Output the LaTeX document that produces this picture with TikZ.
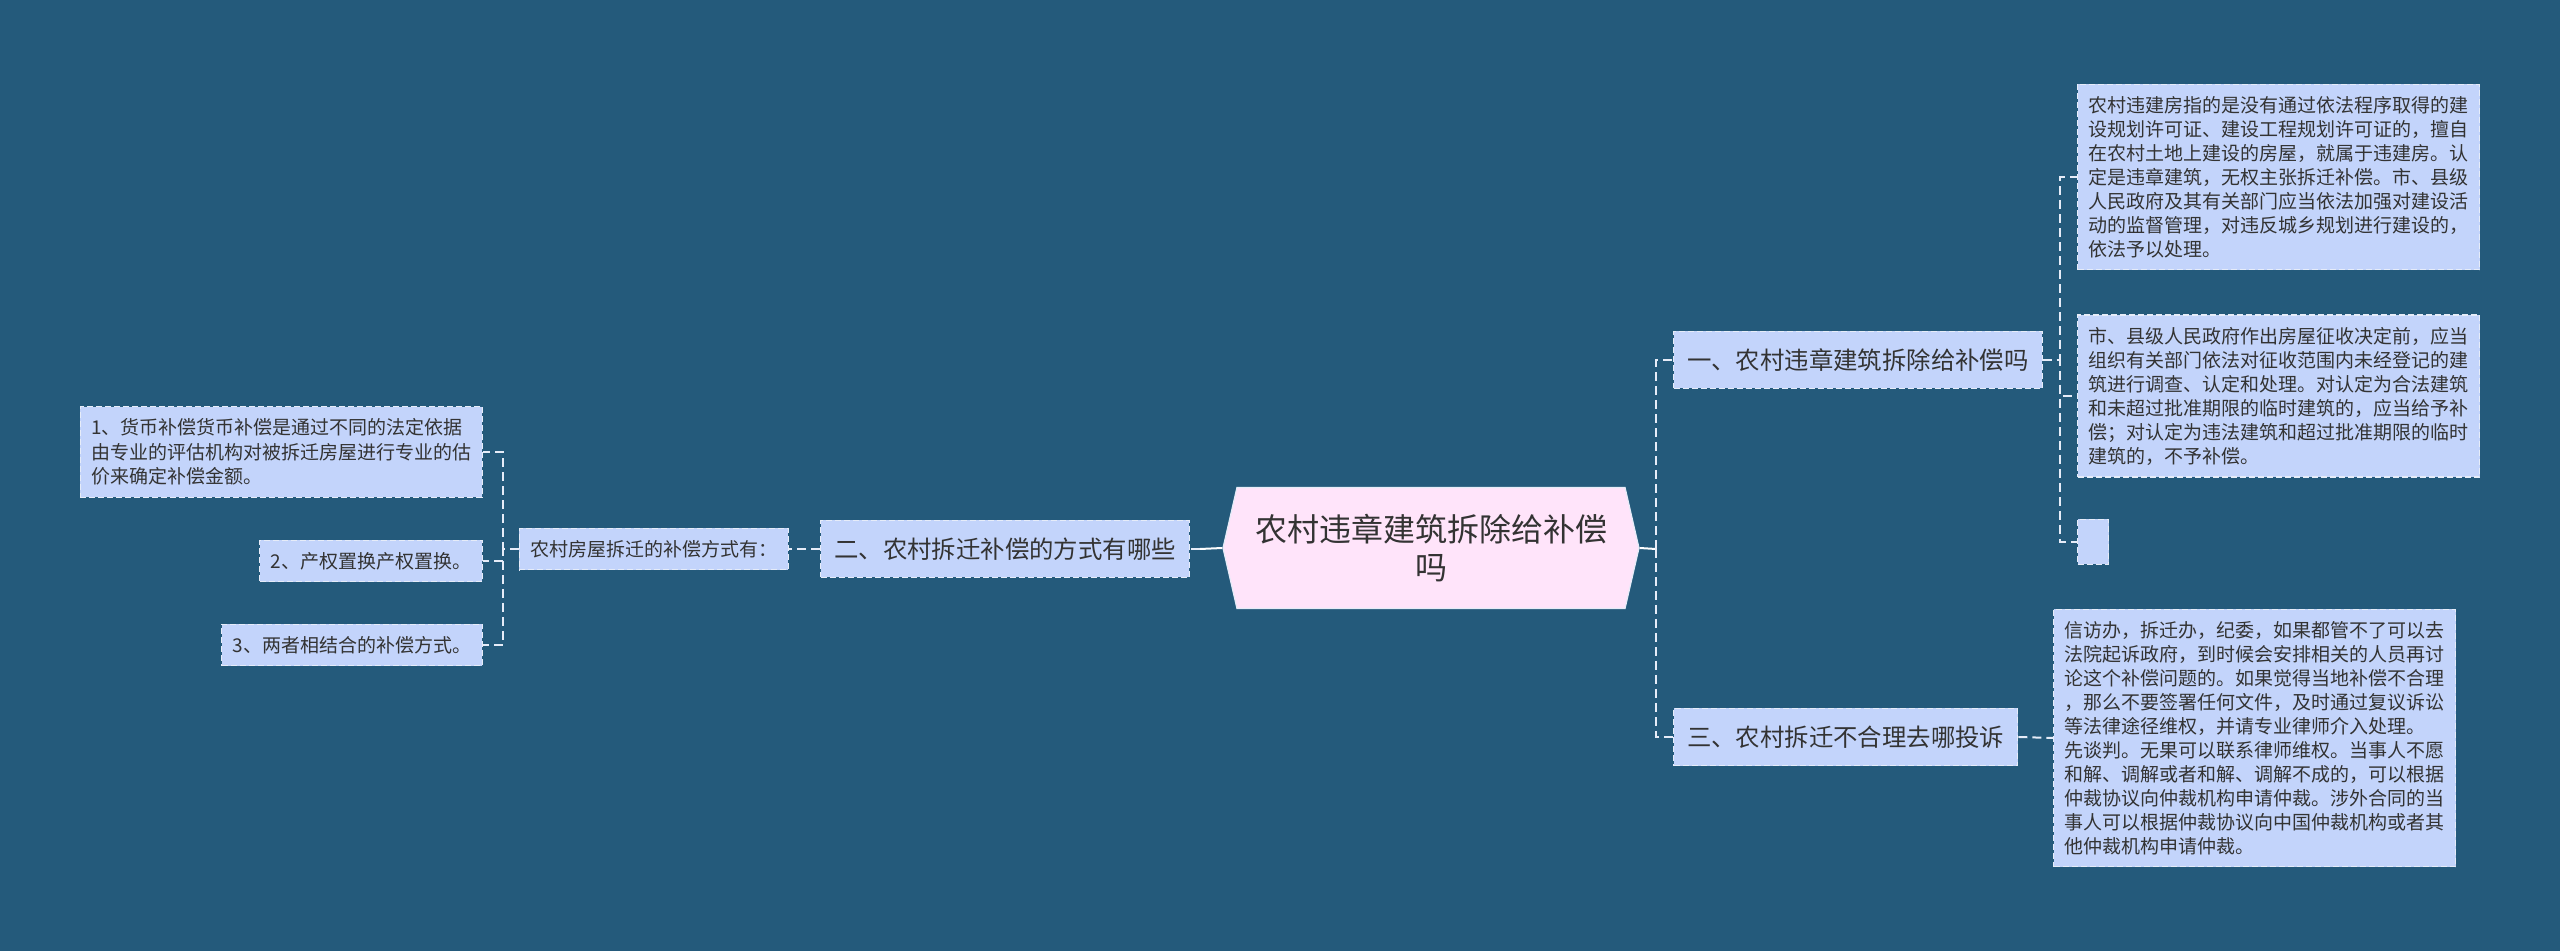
\documentclass[tikz,border=0pt]{standalone}
\usepackage{fontspec}
\setmainfont{Noto Sans CJK SC}
\usepackage{tikz}
\usetikzlibrary{shapes.symbols}
\definecolor{bg}{HTML}{245A7B}
\definecolor{cardc}{HTML}{C3D4FB}
\definecolor{pinkc}{HTML}{FFE4FA}
\definecolor{ink}{HTML}{333333}
\definecolor{rim}{HTML}{E6ECF8}

\begin{document}
\begin{tikzpicture}[x=0.5pt,y=-0.5pt, every node/.style={text=ink,align=left}, card/.style={draw=rim,fill=cardc,line width=0.6pt,dash pattern=on 3pt off 1.5pt,inner xsep=5.5pt,inner ysep=6pt}, leaf/.style={card,font=\fontsize{9.5}{12}\selectfont}, lleaf/.style={card,font=\fontsize{9.5}{12.3}\selectfont}, topic/.style={card,font=\fontsize{12.2}{14}\selectfont,inner xsep=6.75pt,minimum height=28.5pt}, hub/.style={signal,signal to=east and west,signal pointer angle=154,draw=rim,fill=pinkc,line width=0.6pt,font=\fontsize{16}{19}\selectfont,align=center,minimum width=208pt,minimum height=60.5pt}, ln/.style={draw=rim,line width=1pt,dash pattern=on 4.5pt off 2.5pt}, rl/.style={draw=white,line width=1pt}]
\fill[bg] (0,0) rectangle (2560,951);
\useasboundingbox (0,0) rectangle (2560,951);
\node[hub] (hub) at (1431,548) {农村违章建筑拆除给补偿\\吗};
\node[topic,anchor=west] (one) at (1673,360) {一、农村违章建筑拆除给补偿吗};
\node[topic,anchor=west] (three) at (1673,737) {三、农村拆迁不合理去哪投诉};
\node[topic,anchor=east] (two) at (1190,549) {二、农村拆迁补偿的方式有哪些};
\node[card,anchor=east,font=\fontsize{9.5}{11}\selectfont] (way) at (789,549) {农村房屋拆迁的补偿方式有：};
\node[leaf,anchor=west] (r1) at (2077,177) {农村违建房指的是没有通过依法程序取得的建\\设规划许可证、建设工程规划许可证的，擅自\\在农村土地上建设的房屋，就属于违建房。认\\定是违章建筑，无权主张拆迁补偿。市、县级\\人民政府及其有关部门应当依法加强对建设活\\动的监督管理，对违反城乡规划进行建设的，\\依法予以处理。};
\node[leaf,anchor=west] (r2) at (2077,396) {市、县级人民政府作出房屋征收决定前，应当\\组织有关部门依法对征收范围内未经登记的建\\筑进行调查、认定和处理。对认定为合法建筑\\和未超过批准期限的临时建筑的，应当给予补\\偿；对认定为违法建筑和超过批准期限的临时\\建筑的，不予补偿。};
\node[leaf,anchor=west,minimum width=15.5pt,minimum height=22.5pt] (r3) at (2077,542) {};
\node[leaf,anchor=west] (r4) at (2053,738) {信访办，拆迁办，纪委，如果都管不了可以去\\法院起诉政府，到时候会安排相关的人员再讨\\论这个补偿问题的。如果觉得当地补偿不合理\\，那么不要签署任何文件，及时通过复议诉讼\\等法律途径维权，并请专业律师介入处理。\\先谈判。无果可以联系律师维权。当事人不愿\\和解、调解或者和解、调解不成的，可以根据\\仲裁协议向仲裁机构申请仲裁。涉外合同的当\\事人可以根据仲裁协议向中国仲裁机构或者其\\他仲裁机构申请仲裁。};
\node[lleaf,anchor=east] (l1) at (483,452) {1、货币补偿货币补偿是通过不同的法定依据\\由专业的评估机构对被拆迁房屋进行专业的估\\价来确定补偿金额。};
\node[lleaf,anchor=east] (l2) at (483,561) {2、产权置换产权置换。};
\node[lleaf,anchor=east] (l3) at (483,645) {3、两者相结合的补偿方式。};
\coordinate (rj) at (1656,549);
\coordinate (lj) at (1200,549);
\draw[rl] (hub.east) -- (rj);\draw[ln] (rj) |- (one.west);\draw[ln] (rj) |- (three.west);
\draw[rl] (hub.west) -- (lj);\draw[ln] (lj) -- (two.east);\draw[ln] (two.west) -- (way.east);
\draw[ln] (way.west) -- ++(-16,0) |- (l1.east);\draw[ln] (way.west) -- ++(-16,0) |- (l2.east);\draw[ln] (way.west) -- ++(-16,0) |- (l3.east);
\draw[ln] (one.east) -- ++(17,0) |- (r1.west);\draw[ln] (one.east) -- ++(17,0) |- (r2.west);\draw[ln] (one.east) -- ++(17,0) |- (r3.west);
\draw[ln] (three.east) -- (r4.west);
\end{tikzpicture}
\end{document}
